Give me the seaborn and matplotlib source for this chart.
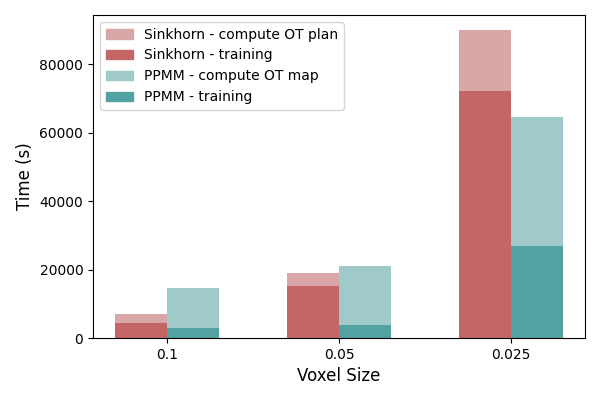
import pandas as pd
import matplotlib
matplotlib.use('Agg')
import matplotlib.pyplot as plt
import matplotlib.patches as mpatches
import seaborn as sns

voxel_sizes = ['0.1', '0.05', '0.025']
methods = ['Sinkhorn', 'PPMM']
sinkhorn_total = [7000, 19000, 89900]
sinkhorn_train = [4350, 15200, 72100]
ppmm_total = [14600, 21000, 64500]
ppmm_train = [2900, 3800, 26900]

dark = {'Sinkhorn': '#c46666', 'PPMM': '#52a2a2'}
light = {'Sinkhorn': '#d9a7a7', 'PPMM': '#a0c9c9'}

df = pd.DataFrame({
    'Voxel Size': voxel_sizes * 2,
    'method': ['Sinkhorn'] * 3 + ['PPMM'] * 3,
    'total': sinkhorn_total + ppmm_total,
    'train': sinkhorn_train + ppmm_train,
})

fig, ax = plt.subplots(figsize=(6, 4), dpi=100)
sns.barplot(data=df, x='Voxel Size', y='total', hue='method', hue_order=methods,
            order=voxel_sizes, palette=light, width=0.6, saturation=1,
            legend=False, ax=ax)
sns.barplot(data=df, x='Voxel Size', y='train', hue='method', hue_order=methods,
            order=voxel_sizes, palette=dark, width=0.6, saturation=1,
            legend=False, ax=ax)
ax.set_xlim(-0.43, 2.43)
ax.set_xlabel('Voxel Size', fontsize=12)
ax.set_ylabel('Time (s)', fontsize=12)

handles = [
    mpatches.Patch(color=light['Sinkhorn'], label='Sinkhorn - compute OT plan'),
    mpatches.Patch(color=dark['Sinkhorn'], label='Sinkhorn - training'),
    mpatches.Patch(color=light['PPMM'], label='PPMM - compute OT map'),
    mpatches.Patch(color=dark['PPMM'], label='PPMM - training'),
]
ax.legend(handles=handles, loc='upper left', fontsize=10)

plt.subplots_adjust(left=0.155, right=0.975, top=0.9625, bottom=0.155)
plt.savefig('out.png')
